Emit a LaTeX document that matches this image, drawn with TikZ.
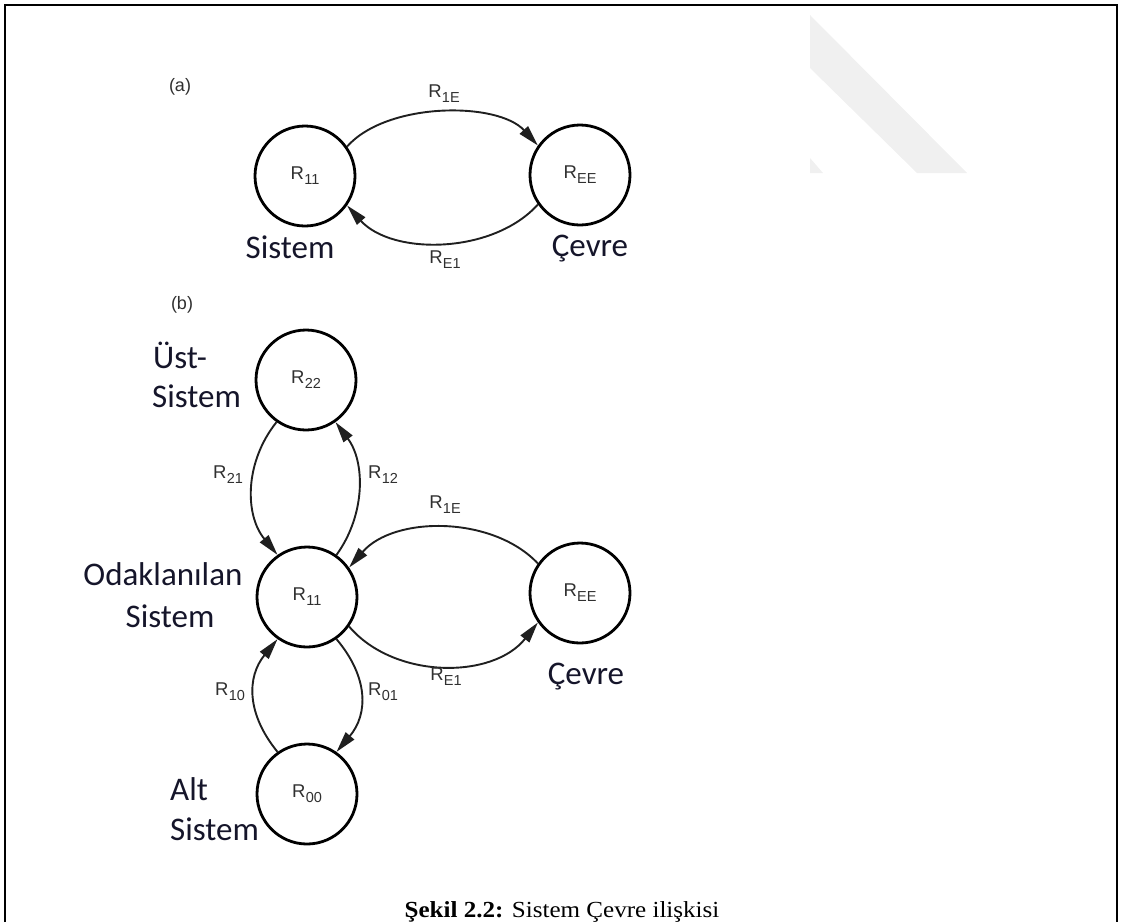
\documentclass[tikz,border=0pt]{standalone}
\usepackage{fontspec}
\usepackage{graphicx}
\setmainfont{Liberation Serif}
\newfontfamily\labfont{Carlito}
\newfontfamily\rfont{Liberation Sans}
\usetikzlibrary{arrows.meta}
\definecolor{rcol}{HTML}{303030}
\definecolor{labcol}{HTML}{15152A}
\definecolor{wm}{HTML}{F0F0F0}
\newcommand{\RR}[1]{R\kern0.3pt\raisebox{-5pt}{\fontsize{14.5}{14.5}\selectfont #1}}
\begin{document}
\begin{tikzpicture}[x=1pt,y=-1pt,
  st/.style={circle,draw=black,line width=2.8pt,minimum size=100pt,inner sep=0pt,
    font=\rfont\fontsize{18.5}{18.5}\selectfont,text=rcol},
  conn/.style={line width=1.9pt,draw=black!88,-{Triangle[length=21pt,width=11pt]}},
  rl/.style={font=\rfont\fontsize{18.5}{18.5}\selectfont,text=rcol,inner sep=0pt},
  lab/.style={font=\labfont\fontsize{33}{33}\selectfont,text=labcol,inner sep=0pt},
  tag/.style={font=\rfont\fontsize{18}{18}\selectfont,text=rcol,inner sep=0pt}]
\useasboundingbox (0,0) rectangle (1121,922);
% watermark
\fill[wm] (810,15) -- (967,173) -- (917,173) -- (810,68) -- cycle;
\fill[wm] (810,158) -- (823,173) -- (810,173) -- cycle;
% frame
\draw[line width=2pt] (5,922) -- (5,5) -- (1117,5) -- (1117,922);

% ---------- (a)
\node[tag] (ta) at (180,87) {(a)};
\node[st] (R11a) at (305,176) {\RR{11}};
\node[st] (REEa) at (580,175) {\RR{EE}};
\draw[conn] (R11a.35) .. controls +(40,-45) and +(-40,-44) .. (REEa.145);
\draw[conn] (REEa.215) .. controls +(-45,50) and +(45,50) .. (R11a.-35);
\node[rl] (l1Ea) at (444,94) {\RR{1E}};
\node[rl] (lE1a) at (445,260) {\RR{E1}};
\node[lab,anchor=base] (sisa) at (290,258) {Sistem};
\node[lab,anchor=base] (ceva) at (590,256) {Çevre};

% ---------- (b)
\node[tag] (tb) at (182,305) {(b)};
\node[st] (R22) at (306,380) {\RR{22}};
\node[st] (R11b) at (307,597) {\RR{11}};
\node[st] (REEb) at (580,593) {\RR{EE}};
\node[st] (R00) at (307,794) {\RR{00}};

\draw[conn] (R22.235) .. controls +(-32,40) and +(-33,-40) .. (R11b.125);
\draw[conn] (R11b.55) .. controls +(29,-40) and +(30,40) .. (R22.-55);
\draw[conn] (REEb.145) .. controls +(-45,-48) and +(45,-52) .. (R11b.35);
\draw[conn] (R11b.-35) .. controls +(45,53) and +(-45,57) .. (REEb.215);
\draw[conn] (R00.125) .. controls +(-31,-38) and +(-31,38) .. (R11b.235);
\draw[conn] (R11b.-55) .. controls +(32,38) and +(32,-38) .. (R00.55);

\node[rl] (l21) at (228,475) {\RR{21}};
\node[rl] (l12) at (383,475) {\RR{12}};
\node[rl] (l1Eb) at (445,505) {\RR{1E}};
\node[rl] (lE1b) at (446,677) {\RR{E1}};
\node[rl] (l10) at (230,692) {\RR{10}};
\node[rl] (l01) at (383,692) {\RR{01}};

\node[lab,anchor=base west] (ust1) at (153,368) {Üst-};
\node[lab,anchor=base west] (ust2) at (152,407) {Sistem};
\node[lab,anchor=base] (oda1) at (163,585) {Odaklanılan};
\node[lab,anchor=base] (oda2) at (170,627) {Sistem};
\node[lab,anchor=base] (cevb) at (586,684) {Çevre};
\node[lab,anchor=base west] (alt1) at (170,800) {Alt};
\node[lab,anchor=base west] (alt2) at (170,840) {Sistem};

% caption
\node[anchor=base,inner sep=0pt,font=\fontsize{23}{23}\selectfont] (cap) at (562,917)
  {\scalebox{1.09}[1]{\textbf{Şekil 2.2:} Sistem Çevre ilişkisi}};
\end{tikzpicture}
\end{document}
